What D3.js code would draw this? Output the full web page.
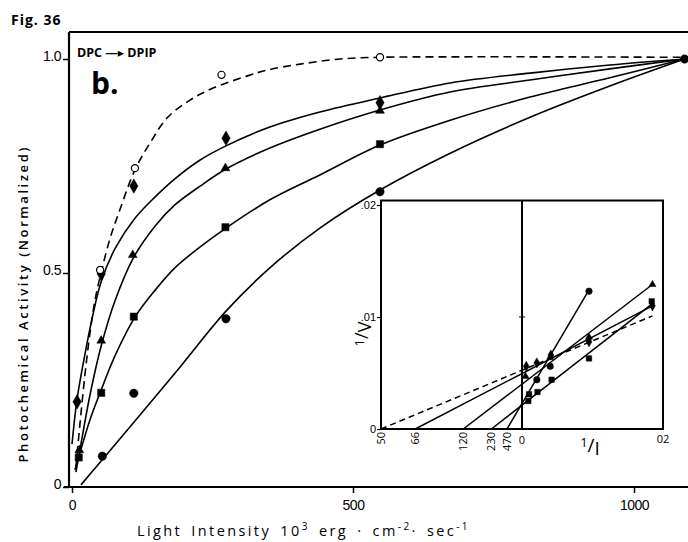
<!DOCTYPE html>
<html><head><meta charset="utf-8">
<script src="https://cdn.jsdelivr.net/npm/d3@7"></script>
<style>
html,body{margin:0;padding:0;background:#fff;}
svg{display:block;font-family:"Open Sans","DejaVu Sans",sans-serif;}
</style></head><body>
<svg id="chart" width="688" height="542"></svg>
<script>
// ---- Main panel: light intensity (10^3 erg cm^-2 s^-1) vs normalized activity ----
const openIntensity = [50, 112, 266, 548];
const openActivity = [0.507, 0.745, 0.963, 1.004];
const diamondIntensity = [9, 52, 110, 274, 548];
const diamondActivity = [0.199, 0.498, 0.703, 0.815, 0.898];
const triangleIntensity = [13, 52, 108, 273, 548];
const triangleActivity = [0.086, 0.342, 0.542, 0.745, 0.879];
const squareIntensity = [12, 52, 110, 273, 548];
const squareActivity = [0.069, 0.220, 0.398, 0.607, 0.801];
const circleIntensity = [54, 110, 274, 548];
const circleActivity = [0.072, 0.219, 0.393, 0.690];
const commonIntensity = [1090];
const commonActivity = [1.0];

// hand-drawn saturation curves, [intensity, activity]
const dashedFit = [[7,0.047],[14,0.145],[23,0.262],[32,0.360],[41,0.437],[52,0.502],[68,0.582],[85,0.647],[112,0.741],[139,0.804],[169,0.862],[210,0.904],[251,0.932],[311,0.960],[347,0.974],[406,0.988],[477,1.0],[548,1.004],[673,1.005],[851,1.005],[1090,1.004]];
const diamondFit = [[0,0.10],[9,0.205],[23,0.31],[36,0.395],[52,0.48],[77,0.558],[112,0.628],[148,0.678],[183,0.720],[228,0.764],[274,0.797],[352,0.841],[441,0.876],[548,0.909],[673,0.944],[815,0.967],[957,0.986],[1090,1.0]];
const triangleFit = [[7,0.035],[14,0.086],[32,0.215],[52,0.330],[77,0.437],[109,0.535],[148,0.610],[183,0.659],[228,0.703],[274,0.743],[352,0.792],[441,0.836],[548,0.881],[673,0.923],[815,0.951],[957,0.977],[1090,1.0]];
const squareFit = [[5,0.040],[12,0.070],[32,0.157],[52,0.227],[77,0.308],[112,0.397],[148,0.460],[183,0.512],[228,0.561],[274,0.605],[352,0.671],[441,0.729],[548,0.799],[673,0.857],[815,0.911],[957,0.956],[1090,1.0]];
const circleFit = [[16,0.005],[52,0.061],[112,0.154],[192,0.280],[274,0.411],[352,0.512],[441,0.605],[548,0.694],[673,0.780],[815,0.864],[957,0.937],[1090,1.0]];

const xTicks = [0, 500, 1000];
const yTicks = [0, 0.5, 1.0];
const yTickLabels = ["0", "0.5", "1.0"];

// ---- Inset: double reciprocal plot, 1/V vs 1/I ----
const insetInterceptLabels = ["50", "66", "120", "230", "470"];
const insetLineEndX = [0.0185, 0.0185, 0.0185, 0.0185, 0.0094];
const insetLineEndY = [0.0101, 0.0110, 0.0129, 0.0112, 0.0123];
const insetDiamondX = [0.0006, 0.0021, 0.0041, 0.0095, 0.0185];
const insetDiamondY = [0.0056, 0.0059, 0.0066, 0.0078, 0.0110];
const insetTriangleX = [0.0005, 0.0040, 0.0095, 0.0185];
const insetTriangleY = [0.0047, 0.0064, 0.0082, 0.0129];
const insetSquareX = [0.0009, 0.0010, 0.0022, 0.0042, 0.0095, 0.0184];
const insetSquareY = [0.0025, 0.0031, 0.0033, 0.0044, 0.0063, 0.0114];
const insetCircleX = [0.0021, 0.0040, 0.0095];
const insetCircleY = [0.0044, 0.0056, 0.0123];
const insetYTicks = [0, 0.01, 0.02];
const insetYTickLabels = ["0", ".01", ".02"];

const svg = d3.select("#chart");

const x = d3.scaleLinear().domain([0, 1000]).range([72, 634]);
const y = d3.scaleLinear().domain([0, 1]).range([487, 59]);
const frameTop = 32, frameLeft = 69, frameRight = 688;

// frame
svg.append("line").attr("x1", frameLeft).attr("x2", frameRight).attr("y1", frameTop).attr("y2", frameTop)
  .attr("stroke", "#000").attr("stroke-width", 2);
svg.append("line").attr("x1", frameLeft).attr("x2", frameLeft).attr("y1", frameTop).attr("y2", y(0))
  .attr("stroke", "#000").attr("stroke-width", 2.2);
svg.append("line").attr("x1", 64).attr("x2", frameRight).attr("y1", y(0)).attr("y2", y(0))
  .attr("stroke", "#000").attr("stroke-width", 2.2);

// axes
const yAxis = d3.axisLeft(y).tickValues(yTicks).tickSize(6).tickPadding(2)
  .tickFormat((d, i) => yTickLabels[i]);
const gy = svg.append("g").attr("transform", `translate(${frameLeft},0)`).call(yAxis);
gy.select(".domain").remove();
gy.selectAll("line").attr("stroke-width", 1.5);
gy.selectAll("text").attr("font-size", 14).attr("fill", "#000").attr("dy", "0.1em")
  .style("letter-spacing", "-0.5px");

const xAxis = d3.axisBottom(x).tickValues(xTicks).tickSize(6).tickPadding(7).tickFormat(d3.format("d"));
const gx = svg.append("g").attr("transform", `translate(0,${y(0)})`).call(xAxis);
gx.select(".domain").remove();
gx.selectAll("line").attr("stroke-width", 1.5);
gx.selectAll("text").attr("font-size", 14).attr("fill", "#000").style("letter-spacing", "-0.5px");

// axis titles
svg.append("text").attr("transform", "translate(28,305) rotate(-90)")
  .attr("text-anchor", "middle").attr("font-size", 13).attr("font-weight", 600)
  .attr("textLength", 315).attr("lengthAdjust", "spacing")
  .text("Photochemical Activity (Normalized)");

const xt = svg.append("text").attr("x", 137).attr("y", 536).attr("font-size", 14.5)
  .style("letter-spacing", "2.4px").style("word-spacing", "3px");
xt.append("tspan").text("Light Intensity 10");
xt.append("tspan").attr("dy", -6).attr("font-size", 10).text("3");
xt.append("tspan").attr("dy", 6).text(" erg \u00b7 cm");
xt.append("tspan").attr("dy", -6).attr("font-size", 10).text("-2");
xt.append("tspan").attr("dy", 6).text("\u00b7 sec");
xt.append("tspan").attr("dy", -6).attr("font-size", 10).text("-1");

// headings
svg.append("text").attr("x", 11).attr("y", 25).attr("font-size", 14).attr("font-weight", "bold")
  .style("letter-spacing", "1px").text("Fig. 36");
svg.append("text").attr("x", 77).attr("y", 57).attr("font-size", 12.5).attr("font-weight", "bold")
  .text("DPC \u2014\u25b8 DPIP");
svg.append("text").attr("x", 91).attr("y", 94).attr("font-size", 30).attr("font-weight", "bold")
  .text("b.");

// curves
const line = d3.line().x(d => x(d[0])).y(d => y(d[1])).curve(d3.curveCatmullRom.alpha(0.5));
[diamondFit, triangleFit, squareFit, circleFit].forEach(f => {
  svg.append("path").attr("d", line(f)).attr("fill", "none").attr("stroke", "#000").attr("stroke-width", 1.6);
});
svg.append("path").attr("d", line(dashedFit)).attr("fill", "none").attr("stroke", "#000")
  .attr("stroke-width", 1.6).attr("stroke-dasharray", "8,5");

// markers
function drawMarkers(xs, ys, type, size, filled, sx, sy) {
  svg.append("g").selectAll("path").data(xs).join("path")
    .attr("transform", (d, i) => `translate(${sx(d)},${sy(ys[i])})`)
    .attr("d", d3.symbol().type(type).size(size)())
    .attr("fill", filled ? "#000" : "#fff").attr("stroke", "#000").attr("stroke-width", filled ? 0.5 : 1.2);
}
drawMarkers(diamondIntensity, diamondActivity, d3.symbolDiamond, 60, true, x, y);
drawMarkers(triangleIntensity, triangleActivity, d3.symbolTriangle, 34, true, x, y);
drawMarkers(squareIntensity, squareActivity, d3.symbolSquare, 52, true, x, y);
drawMarkers(circleIntensity, circleActivity, d3.symbolCircle, 56, true, x, y);
drawMarkers(openIntensity, openActivity, d3.symbolCircle, 40, false, x, y);
drawMarkers(commonIntensity, commonActivity, d3.symbolCircle, 56, true, x, y);

// ---- inset ----
const xi = d3.scaleLinear().domain([-0.02, 0.02]).range([381, 663]);
const yi = d3.scaleLinear().domain([0, 0.02]).range([429, 205]);
const insetTop = yi(0.0204);

svg.append("rect").attr("x", xi(-0.02)).attr("y", insetTop)
  .attr("width", xi(0.02) - xi(-0.02)).attr("height", yi(0) - insetTop)
  .attr("fill", "#fff").attr("stroke", "#000").attr("stroke-width", 2);
svg.append("line").attr("x1", xi(0)).attr("x2", xi(0)).attr("y1", insetTop).attr("y2", yi(0))
  .attr("stroke", "#000").attr("stroke-width", 2);
svg.append("line").attr("x1", xi(0) - 3).attr("x2", xi(0) + 3).attr("y1", yi(0.01)).attr("y2", yi(0.01))
  .attr("stroke", "#000").attr("stroke-width", 1);

const yiAxis = d3.axisLeft(yi).tickValues(insetYTicks).tickSize(4).tickPadding(1)
  .tickFormat((d, i) => insetYTickLabels[i]);
const giy = svg.append("g").attr("transform", `translate(${xi(-0.02)},0)`).call(yiAxis);
giy.select(".domain").remove();
giy.selectAll("line").attr("stroke-width", 1.2);
giy.selectAll("text").attr("font-size", 11).attr("fill", "#000");

// intercept labels on the 1/I axis
const interceptX = insetInterceptLabels.map(s => -1 / +s);
svg.append("g").selectAll("text").data(insetInterceptLabels).join("text")
  .attr("transform", (d, i) => `translate(${xi(interceptX[i]) + 4},${yi(0) + 3}) rotate(-90)`)
  .attr("text-anchor", "end").attr("font-size", 11).text(d => d);
svg.append("text").attr("x", xi(0)).attr("y", yi(0) + 15).attr("text-anchor", "middle")
  .attr("font-size", 11).text("0");
svg.append("text").attr("x", xi(0.02)).attr("y", yi(0) + 14).attr("text-anchor", "middle")
  .attr("font-size", 11).text("02");

// axis names of the inset
const lv = svg.append("text").attr("transform", "translate(368,334) rotate(-90)")
  .attr("text-anchor", "middle").attr("font-size", 18);
lv.append("tspan").attr("font-size", 13).attr("dy", -4).text("1");
lv.append("tspan").attr("dy", 4).text("/");
lv.append("tspan").attr("dy", 3).text("V");
const li = svg.append("text").attr("x", 590).attr("y", 452).attr("text-anchor", "middle").attr("font-size", 19);
li.append("tspan").attr("font-size", 13).attr("dy", -5).text("1");
li.append("tspan").attr("dy", 5).text("/");
li.append("tspan").attr("dy", 3).text("I");

// reciprocal lines from each intercept
insetInterceptLabels.forEach((lab, i) => {
  const seg = [[interceptX[i], 0], [insetLineEndX[i], insetLineEndY[i]]];
  svg.append("path")
    .attr("d", d3.line().x(d => xi(d[0])).y(d => yi(d[1]))(seg))
    .attr("fill", "none").attr("stroke", "#000").attr("stroke-width", 1.5)
    .attr("stroke-dasharray", i === 0 ? "6,4" : null);
});

drawMarkers(insetDiamondX, insetDiamondY, d3.symbolDiamond, 30, true, xi, yi);
drawMarkers(insetTriangleX, insetTriangleY, d3.symbolTriangle, 22, true, xi, yi);
drawMarkers(insetSquareX, insetSquareY, d3.symbolSquare, 30, true, xi, yi);
drawMarkers(insetCircleX, insetCircleY, d3.symbolCircle, 34, true, xi, yi);
</script>
</body></html>
